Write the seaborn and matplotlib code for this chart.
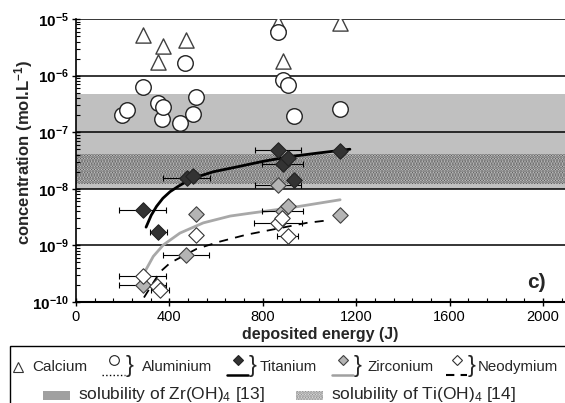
import numpy as np
import pandas as pd
import seaborn as sns
import matplotlib
matplotlib.use("Agg")
import matplotlib.pyplot as plt
import matplotlib.ticker as mticker
from matplotlib.lines import Line2D
from matplotlib.patches import Rectangle

# ---------------- data ----------------
ca_x = [286, 351, 371, 471, 864, 885, 1131]
ca_y = [5.2e-6, 1.77e-6, 3.3e-6, 4.3e-6, 8.4e-6, 1.8e-6, 8.4e-6]

al_x = [196, 220, 286, 351, 368, 374, 445, 468, 502, 514, 864, 885, 906, 934, 1131]
al_y = [2.0e-7, 2.5e-7, 6.3e-7, 3.3e-7, 1.7e-7, 2.8e-7, 1.48e-7, 1.65e-6,
        2.1e-7, 4.2e-7, 6.0e-6, 8.2e-7, 6.9e-7, 1.9e-7, 2.6e-7]

ti_x = [286, 353, 474, 502, 864, 885, 906, 934, 1131]
ti_y = [4.2e-9, 1.7e-9, 1.55e-8, 1.65e-8, 4.9e-8, 2.7e-8, 3.5e-8, 1.45e-8, 4.6e-8]
ti_xerr = [100, 38, 100, 0, 98, 88, 0, 0, 0]

zr_x = [286, 471, 514, 864, 885, 906, 1131]
zr_y = [2.0e-10, 6.9e-10, 3.6e-9, 1.17e-8, 4.0e-9, 4.9e-9, 3.4e-9]
zr_xerr = [100, 100, 0, 98, 87, 0, 0]

nd_x = [286, 345, 360, 514, 864, 880, 906]
nd_y = [2.9e-10, 1.9e-10, 1.6e-10, 1.55e-9, 2.5e-9, 3.0e-9, 1.45e-9]
nd_xerr = [100, 0, 38, 0, 103, 0, 45]

# trend curves
ti_fit_x = [300, 322, 345, 372, 403, 440, 474, 530, 588, 702, 800, 916, 1040, 1173]
ti_fit_y = [2.1e-9, 3.4e-9, 4.9e-9, 6.8e-9, 8.9e-9, 1.12e-8, 1.35e-8, 1.68e-8, 2.0e-8,
            2.5e-8, 3.05e-8, 3.7e-8, 4.3e-8, 5.0e-8]
zr_fit_x = [296, 331, 374, 445, 545, 660, 745, 916, 1131]
zr_fit_y = [3.5e-10, 6.4e-10, 1.02e-9, 1.65e-9, 2.5e-9, 3.3e-9, 3.7e-9, 4.6e-9, 6.4e-9]
nd_fit_x = [291, 360, 403, 517, 617, 731, 988, 1088]
nd_fit_y = [1.2e-10, 3.4e-10, 4.9e-10, 8.7e-10, 1.17e-9, 1.55e-9, 2.5e-9, 2.8e-9]

# solubility ranges
zr_sol = (1.0e-8, 4.8e-7)
ti_sol = (1.2e-8, 4.2e-8)

x_ticks = [0, 400, 800, 1200, 1600, 2000]
y_ticks = [1e-10, 1e-9, 1e-8, 1e-7, 1e-6, 1e-5]

legend_row1 = ['Calcium', 'Aluminium', 'Titanium', 'Zirconium', 'Neodymium']
legend_row2 = [r'solubility of Zr(OH)$_4$ [13]', r'solubility of Ti(OH)$_4$ [14]']

# ---------------- style ----------------
sns.set_style("ticks")
plt.rcParams['font.family'] = ['Liberation Sans', 'DejaVu Sans']
plt.rcParams['mathtext.fontset'] = 'custom'
plt.rcParams['mathtext.rm'] = 'Liberation Sans'
plt.rcParams['mathtext.it'] = 'Liberation Sans:italic'
plt.rcParams['mathtext.bf'] = 'Liberation Sans:bold'
plt.rcParams['hatch.linewidth'] = 1.6

W, H = 565, 403
fig = plt.figure(figsize=(W/100, H/100), dpi=100)
ax = fig.add_axes([76/W, 1-302/H, 1-76/W, (302-19)/H])
ax.set_yscale('log')
ax.set_ylim(1e-10, 1e-5)
ax.set_xlim(0, 2094)

STIPPLE_FC = '#dcdcdc'
STIPPLE_EC = '#555555'

# bands
ax.axhspan(*zr_sol, facecolor='#c0c0c0', lw=0, zorder=0.8)
ax.axhspan(*ti_sol, facecolor=STIPPLE_FC, edgecolor=STIPPLE_EC, hatch='......', lw=0, zorder=0.9)

# grid lines at decades
ax.set_axisbelow('line')
ax.yaxis.grid(True, which='major', color='black', lw=1.1)
ax.xaxis.grid(False)

# curves
sns.lineplot(x=ti_fit_x, y=ti_fit_y, ax=ax, color='black', lw=2.0, sort=False, estimator=None, zorder=2)
sns.lineplot(x=zr_fit_x, y=zr_fit_y, ax=ax, color='#a8a8a8', lw=2.0, sort=False, estimator=None, zorder=2)
sns.lineplot(x=nd_fit_x, y=nd_fit_y, ax=ax, color='black', lw=1.3, sort=False, estimator=None, zorder=2,
             dashes=False, linestyle=(0, (5, 4)))

# error bars
for xs, ys, es in [(ti_x, ti_y, ti_xerr), (zr_x, zr_y, zr_xerr), (nd_x, nd_y, nd_xerr)]:
    ax.errorbar(xs, ys, xerr=es, fmt='none', ecolor='black', elinewidth=0.8, capsize=2.5,
                capthick=0.8, zorder=3)

# markers
sns.scatterplot(x=ca_x, y=ca_y, ax=ax, marker='^', s=120, color='white', edgecolor='#404040',
                linewidth=1.0, zorder=4)
sns.scatterplot(x=al_x, y=al_y, ax=ax, marker='o', s=125, color='white', edgecolor='#222222',
                linewidth=1.0, zorder=5)
sns.scatterplot(x=ti_x, y=ti_y, ax=ax, marker='D', s=62, color='#333333', edgecolor='#222222',
                linewidth=0.8, zorder=6)
sns.scatterplot(x=zr_x, y=zr_y, ax=ax, marker='D', s=62, color='#b4b4b4', edgecolor='#404040',
                linewidth=0.8, zorder=6)
sns.scatterplot(x=nd_x, y=nd_y, ax=ax, marker='D', s=62, color='white', edgecolor='#333333',
                linewidth=0.8, zorder=6)

# axes styling
for s in ['top', 'right']:
    ax.spines[s].set_visible(False)
ax.spines['left'].set_color('black')
ax.spines['left'].set_linewidth(1.2)
ax.spines['bottom'].set_color('black')
ax.spines['bottom'].set_linewidth(1.5)

ax.xaxis.set_major_locator(mticker.FixedLocator(x_ticks))
ax.xaxis.set_minor_locator(mticker.MultipleLocator(80))
ax.yaxis.set_major_locator(mticker.FixedLocator(y_ticks))
ax.yaxis.set_minor_locator(mticker.LogLocator(base=10, subs=np.arange(2, 10)))
ax.yaxis.set_minor_formatter(mticker.NullFormatter())
ax.yaxis.set_major_formatter(mticker.FuncFormatter(
    lambda v, p: r'$\mathbf{10^{%d}}$' % int(round(np.log10(v)))))
ax.tick_params(axis='x', which='major', direction='inout', length=6, width=1, labelsize=10.5,
               colors='black', pad=3)
ax.tick_params(axis='x', which='minor', direction='in', length=3, width=0.8, colors='black')
ax.tick_params(axis='y', which='major', direction='inout', length=6, width=1, labelsize=11,
               colors='black', pad=2)
ax.tick_params(axis='y', which='minor', direction='in', length=3, width=0.8, colors='black')

ax.set_xlabel('deposited energy (J)', fontsize=11.5, fontweight='bold', labelpad=2)
ax.set_ylabel(r'concentration (mol.L$^{\mathbf{-1}}$)', fontsize=12, fontweight='bold')
ax.yaxis.set_label_coords(-0.084, 0.53)

ax.text(2013, 2.2e-10, 'c)', ha='right', va='center', fontsize=15, fontweight='bold')

# ---------------- legend (drawn in figure pixels) ----------------
def fx(x):
    return x / W

def fy(y):
    return 1 - y / H

def leg_marker(x, y, **kw):
    fig.add_artist(Line2D([fx(x)], [fy(y)], transform=fig.transFigure, ls='none', **kw))

def leg_line(x0, x1, y, **kw):
    fig.add_artist(Line2D([fx(x0), fx(x1)], [fy(y), fy(y)], transform=fig.transFigure, **kw))

ROW1, MK_Y, LN_Y = 367, 360, 375
# Calcium
leg_marker(18, ROW1, marker='^', ms=6.5, mfc='white', mec='#333333', mew=0.8)
fig.text(fx(32), fy(ROW1), legend_row1[0], fontsize=11, va='center', ha='left')

items = [
    (102, 125, dict(color='black', ls=':', lw=1.0),
     dict(marker='o', ms=7, mfc='white', mec='#222222', mew=0.8), 142),
    (227, 248, dict(color='black', ls='-', lw=1.8),
     dict(marker='D', ms=5, mfc='#333333', mec='#222222', mew=0.8), 260),
    (332, 353, dict(color='#a0a0a0', ls='-', lw=1.8),
     dict(marker='D', ms=5, mfc='#b4b4b4', mec='#404040', mew=0.8), 367),
    (446, 467, dict(color='black', ls=(0, (4, 3)), lw=1.5),
     dict(marker='D', ms=5, mfc='white', mec='#333333', mew=0.8), 478),
]
for (x0, x1, lst, mst, tx), label in zip(items, legend_row1[1:]):
    leg_line(x0, x1, LN_Y, **lst)
    leg_marker((x0 + x1) / 2, MK_Y, **mst)
    fig.text(fx(x1 + 1), fy(ROW1 - 1), '}', fontsize=17, va='center', ha='left')
    fig.text(fx(tx), fy(ROW1), label, fontsize=10.8, va='center', ha='left')

ROW2 = 394
fig.patches.append(Rectangle((fx(43), fy(400)), 27/W, 9/H, transform=fig.transFigure,
                             facecolor='#a0a0a0', edgecolor='none'))
fig.text(fx(78), fy(ROW2), legend_row2[0], fontsize=12.5, va='center', ha='left')
fig.patches.append(Rectangle((fx(296), fy(400)), 27/W, 9/H, transform=fig.transFigure,
                             facecolor='#ececec', edgecolor='#8a8a8a', hatch='......', lw=0))
fig.text(fx(331), fy(ROW2), legend_row2[1], fontsize=12.5, va='center', ha='left')

fig.patches.append(Rectangle((fx(9.5), -0.1), 1.2, (H - 345.5)/H + 0.1, transform=fig.transFigure,
                             fill=False, edgecolor='black', lw=1.0, zorder=10))

fig.savefig('out.png', dpi=100)
